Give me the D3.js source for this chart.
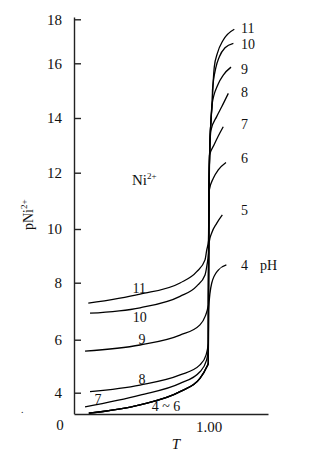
<!DOCTYPE html>
<html>
<head>
<meta charset="utf-8">
<script src="https://d3js.org/d3.v7.min.js"></script>
<style>
  body { margin: 0; background: #fff; }
  text { font-family: "Liberation Serif", "Times New Roman", serif; fill: #111; }
</style>
</head>
<body>
<script>
// titration curves of Ni2+ : fraction titrated T vs pNi
var tTicks = [1.00];
var pNiTicks = [4, 6, 8, 10, 12, 14, 16, 18];
var pHValues = ["4", "5", "6", "7", "8", "9", "10", "11"];

// before the equivalence point pH 4, 5 and 6 fall on one curve
var pre4to6 = [[0.11, 3.22], [0.49, 3.54], [0.787, 4.04], [0.935, 4.54], [0.985, 4.97], [0.997, 5.12]];
var post4 = [[0.998, 6.1], [0.9985, 7.04], [1.022, 7.98], [1.071, 8.47], [1.131, 8.66]];
var post5 = [[0.998, 7.0], [0.9995, 9.0], [1.003, 9.5], [1.022, 9.85], [1.059, 10.2], [1.101, 10.5]];
var post6 = [[0.9985, 7.5], [1.0, 9.5], [1.002, 10.8], [1.0045, 11.39], [1.034, 11.8], [1.071, 12.1], [1.128, 12.37]];
var pH7 = [[0.082, 3.46], [0.49, 3.91], [0.787, 4.35], [0.935, 4.79], [0.984, 5.23], [0.997, 5.63],
           [0.9985, 8.0], [1.0, 10.0], [1.003, 11.5], [1.006, 12.64], [1.039, 13.01], [1.071, 13.34], [1.108, 13.68]];
var pH8 = [[0.119, 4.04], [0.49, 4.29], [0.787, 4.67], [0.935, 5.05], [0.98, 5.42], [0.997, 5.87],
           [0.9985, 8.0], [1.0, 10.0], [1.003, 11.5], [1.0074, 12.83], [1.017, 13.56], [1.059, 14.05], [1.0965, 14.41], [1.1455, 14.9]];
var pH9 = [[0.082, 5.57], [0.49, 5.8], [0.787, 6.16], [0.935, 6.52], [0.9725, 6.81], [0.997, 7.22],
           [0.9985, 9.0], [1.001, 11.0], [1.0074, 12.83], [1.017, 13.93], [1.024, 14.48], [1.067, 15.21], [1.108, 15.57], [1.1655, 15.86]];
var pH10 = [[0.119, 6.93], [0.49, 7.12], [0.787, 7.52], [0.911, 7.88], [0.9725, 8.29], [0.987, 8.66], [0.9985, 9.1],
            [1.001, 11.0], [1.0074, 12.83], [1.017, 13.93], [1.0267, 14.66], [1.028, 15.02], [1.052, 15.82], [1.079, 16.3], [1.121, 16.71], [1.183, 16.91]];
var pH11 = [[0.106, 7.28], [0.49, 7.6], [0.787, 7.99], [0.911, 8.41], [0.9725, 8.85], [0.985, 9.21], [0.9985, 9.58],
            [1.001, 11.0], [1.0074, 12.83], [1.017, 13.93], [1.0267, 14.66], [1.034, 15.39], [1.0416, 15.88], [1.064, 16.45], [1.108, 17.06], [1.19, 17.55]];

var curves = [pre4to6.concat(post4), pre4to6.concat(post5), pre4to6.concat(post6), pH7, pH8, pH9, pH10, pH11];

var margin = {top: 17, right: 60, bottom: 48, left: 74},
    width = 328 - margin.left - margin.right,
    height = 462 - margin.top - margin.bottom;

var x = d3.scaleLinear().domain([0, 1.44]).range([0, width]);
// the printed axis is not evenly spaced, so follow its tick marks piece by piece
var y = d3.scaleLinear()
    .domain([3.2].concat(pNiTicks, [18.1]))
    .range([396.7, 375.7, 322.7, 265.7, 212, 155.7, 101, 46.3, 2.3, 0]);

var svg = d3.select("body").append("svg")
    .attr("width", 328)
    .attr("height", 462)
  .append("g")
    .attr("transform", "translate(" + margin.left + "," + margin.top + ")");

// axes
var yAxis = svg.append("g")
    .call(d3.axisLeft(y).tickValues(pNiTicks).tickFormat(d3.format("d"))
      .tickSizeInner(-7).tickSizeOuter(0).tickPadding(12));
var xAxis = svg.append("g")
    .attr("transform", "translate(0," + height + ")")
    .call(d3.axisBottom(x).tickValues(tTicks).tickFormat(d3.format(".2f"))
      .tickSize(0).tickPadding(7));
svg.selectAll(".domain, .tick line").attr("stroke", "#222").attr("stroke-width", 1.4);
svg.selectAll(".tick text").style("font-size", "15px").style("font-family", "Liberation Serif");

var line = d3.line()
    .x(function(d) { return x(d[0]); })
    .y(function(d) { return y(d[1]); })
    .curve(d3.curveMonotoneX);

svg.selectAll(".curve")
    .data(curves)
  .enter().append("path")
    .attr("class", "curve")
    .attr("fill", "none")
    .attr("stroke", "#000")
    .attr("stroke-width", 1.3)
    .attr("d", line);

// pH labels at the right hand ends
var endShift = [0, -5, -4, -2.5, -1.5, 2, 1, -1];
svg.selectAll(".endlab")
    .data(curves)
  .enter().append("text")
    .attr("class", "endlab")
    .attr("x", x(1.24))
    .attr("y", function(d, i) { return y(d[d.length - 1][1]) + endShift[i]; })
    .attr("dy", "0.35em")
    .style("font-size", "14px")
    .text(function(d, i) { return pHValues[i]; });
svg.append("text")
    .attr("x", x(1.24) + 19)
    .attr("y", y(post4[post4.length - 1][1]))
    .attr("dy", "0.35em")
    .style("font-size", "14px")
    .text("pH");

// labels on the left part: text, T where it sits, offset from the curve
function pNiAt(pts, t) {
  var i = d3.bisector(function(d) { return d[0]; }).left(pts, t);
  var a = pts[i - 1], b = pts[i];
  return a[1] + (b[1] - a[1]) * (t - a[0]) / (b[0] - a[0]);
}
var leftLabels = [
  {text: "11", pts: pH11, t: 0.485, dy: -6.5},
  {text: "10", pts: pH10, t: 0.488, dy: 9.5},
  {text: "9", pts: pH9, t: 0.505, dy: -5.5},
  {text: "8", pts: pH8, t: 0.505, dy: -5},
  {text: "7", pts: pH7, t: 0.178, dy: -4.5},
  {text: "4 ~ 6", pts: pre4to6, t: 0.683, dy: 10}
];
svg.selectAll(".leftlab")
    .data(leftLabels)
  .enter().append("text")
    .attr("class", "leftlab")
    .attr("x", function(d) { return x(d.t); })
    .attr("y", function(d) { return y(pNiAt(d.pts, d.t)) + d.dy; })
    .attr("dy", "0.35em")
    .attr("text-anchor", "middle")
    .style("font-size", "14px")
    .text(function(d) { return d.text; });

// ion label
var ni = svg.append("text")
    .attr("x", 58)
    .attr("y", 168)
    .style("font-size", "15px");
ni.append("tspan").text("Ni");
ni.append("tspan").attr("dy", -6).style("font-size", "9px").text("2+");

// axis titles
var yl = svg.append("text")
    .attr("transform", "translate(-41,213) rotate(-90)")
    .style("font-size", "14px");
yl.append("tspan").text("pNi");
yl.append("tspan").attr("dy", -6).style("font-size", "9px").text("2+");

svg.append("text")
    .attr("x", 102)
    .attr("y", height + 30)
    .attr("dy", "0.35em")
    .attr("text-anchor", "middle")
    .style("font-size", "15px")
    .style("font-style", "italic")
    .text("T");

svg.append("text")
    .attr("x", -14)
    .attr("y", height + 11)
    .attr("dy", "0.35em")
    .attr("text-anchor", "middle")
    .style("font-size", "15px")
    .text("0");

svg.append("text")
    .attr("x", -53)
    .attr("y", height - 1)
    .style("font-size", "10px")
    .text(".");
</script>
</body>
</html>
